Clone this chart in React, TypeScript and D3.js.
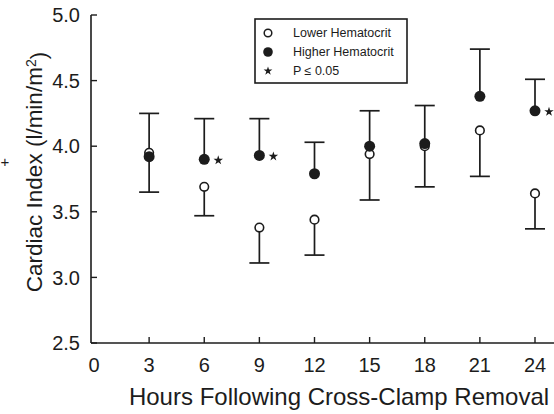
import React, { useEffect, useRef } from 'react';
import * as d3 from 'd3';

// hours after cross-clamp removal
const hours = [3, 6, 9, 12, 15, 18, 21, 24];
// lower hematocrit group (open circles), error bar drawn downward
const lowerMean = [3.95, 3.69, 3.38, 3.44, 3.94, 4.0, 4.12, 3.64];
const lowerSD = [0.3, 0.22, 0.27, 0.27, 0.35, 0.31, 0.35, 0.27];
// higher hematocrit group (filled circles), error bar drawn upward
const higherMean = [3.92, 3.9, 3.93, 3.79, 4.0, 4.02, 4.38, 4.27];
const higherSD = [0.33, 0.31, 0.28, 0.24, 0.27, 0.29, 0.36, 0.24];
// hours where P < 0.05
const significant = [6, 9, 24];

const xTicks = [0, 3, 6, 9, 12, 15, 18, 21, 24];
const yTicks = [2.5, 3.0, 3.5, 4.0, 4.5, 5.0];

const W = 554;
const H = 414;
const ink = '#1c1c1c';
const font = '"Liberation Sans", Arial, sans-serif';

const App = () => {
  const ref = useRef<SVGSVGElement>(null);

  useEffect(() => {
    const svg = d3.select(ref.current);
    svg.selectAll('*').remove();

    const x = d3.scaleLinear().domain([0, 24]).range([94, 535]);
    const y = d3.scaleLinear().domain([2.5, 5.0]).range([343, 15]);
    const axisX = 91;

    // axes lines
    svg.append('line')
      .attr('x1', axisX).attr('x2', axisX)
      .attr('y1', y(5.0)).attr('y2', y(2.5))
      .attr('stroke', ink).attr('stroke-width', 1.6);
    svg.append('line')
      .attr('x1', axisX).attr('x2', W)
      .attr('y1', y(2.5)).attr('y2', y(2.5))
      .attr('stroke', ink).attr('stroke-width', 1.6);

    // y ticks (inward) + labels
    const yg = svg.append('g');
    yg.selectAll('line').data(yTicks).join('line')
      .attr('x1', axisX).attr('x2', axisX + 6)
      .attr('y1', (d) => y(d)).attr('y2', (d) => y(d))
      .attr('stroke', ink).attr('stroke-width', 1.4);
    yg.selectAll('text').data(yTicks).join('text')
      .attr('x', 80).attr('y', (d) => y(d))
      .attr('dy', '0.36em')
      .attr('text-anchor', 'end')
      .style('font-family', font).style('font-size', '20px')
      .attr('fill', ink)
      .text((d) => d.toFixed(1));

    // x ticks (inward) + labels
    const xg = svg.append('g');
    xg.selectAll('line').data(xTicks.filter((d) => d > 0)).join('line')
      .attr('x1', (d) => x(d)).attr('x2', (d) => x(d))
      .attr('y1', y(2.5)).attr('y2', y(2.5) - 6)
      .attr('stroke', ink).attr('stroke-width', 1.4);
    xg.selectAll('text').data(xTicks).join('text')
      .attr('x', (d) => x(d)).attr('y', 372)
      .attr('text-anchor', 'middle')
      .style('font-family', font).style('font-size', '20px')
      .attr('fill', ink)
      .text((d) => d);

    // axis titles
    svg.append('text')
      .attr('x', 339).attr('y', 405)
      .attr('text-anchor', 'middle')
      .style('font-family', font).style('font-size', '24px')
      .attr('fill', ink)
      .text('Hours Following Cross-Clamp Removal');

    const yt = svg.append('text')
      .attr('transform', 'translate(42,172) rotate(-90)')
      .attr('text-anchor', 'middle')
      .style('font-family', font).style('font-size', '22.5px')
      .attr('fill', ink);
    yt.append('tspan').text('Cardiac Index (l/min/m');
    yt.append('tspan').attr('dy', '-0.45em').style('font-size', '14px').text('2');
    yt.append('tspan').attr('dy', '0.45em').text(')');

    // stray mark at the left edge of the scan
    svg.append('text')
      .attr('x', 5).attr('y', 167)
      .attr('text-anchor', 'middle')
      .style('font-family', font).style('font-size', '15px')
      .attr('fill', ink)
      .text('+');

    const cap = 10;
    const bars = svg.append('g').attr('stroke', ink).attr('stroke-width', 1.7);

    // lower group: downward bars
    hours.forEach((h, i) => {
      const cx = x(h);
      const end = y(lowerMean[i] - lowerSD[i]);
      bars.append('line').attr('x1', cx).attr('x2', cx)
        .attr('y1', y(lowerMean[i])).attr('y2', end);
      bars.append('line').attr('x1', cx - cap).attr('x2', cx + cap)
        .attr('y1', end).attr('y2', end);
    });
    // higher group: upward bars
    hours.forEach((h, i) => {
      const cx = x(h);
      const end = y(higherMean[i] + higherSD[i]);
      bars.append('line').attr('x1', cx).attr('x2', cx)
        .attr('y1', y(higherMean[i])).attr('y2', end);
      bars.append('line').attr('x1', cx - cap).attr('x2', cx + cap)
        .attr('y1', end).attr('y2', end);
    });

    // open circles
    svg.append('g').selectAll('circle').data(hours).join('circle')
      .attr('cx', (d) => x(d))
      .attr('cy', (d, i) => y(lowerMean[i]))
      .attr('r', 4.3)
      .attr('fill', 'white')
      .attr('stroke', ink).attr('stroke-width', 1.6);

    // filled circles
    svg.append('g').selectAll('circle').data(hours).join('circle')
      .attr('cx', (d) => x(d))
      .attr('cy', (d, i) => y(higherMean[i]))
      .attr('r', 5.5)
      .attr('fill', ink);

    // significance stars
    const star = d3.symbol().type(d3.symbolStar).size(28);
    svg.append('g').selectAll('path').data(significant).join('path')
      .attr('transform', (d) => {
        const i = hours.indexOf(d);
        return `translate(${x(d) + 14},${y(higherMean[i]) + 1})`;
      })
      .attr('d', star)
      .attr('fill', ink);

    // legend
    const lg = svg.append('g');
    lg.append('rect')
      .attr('x', 255).attr('y', 19).attr('width', 152).attr('height', 64)
      .attr('fill', 'white').attr('stroke', ink).attr('stroke-width', 1.6);
    const rows = [
      { label: 'Lower Hematocrit', y: 33 },
      { label: 'Higher Hematocrit', y: 52 },
      { label: 'P \u2264 0.05', y: 71 },
    ];
    lg.append('circle').attr('cx', 268).attr('cy', rows[0].y).attr('r', 3.8)
      .attr('fill', 'white').attr('stroke', ink).attr('stroke-width', 1.5);
    lg.append('circle').attr('cx', 268).attr('cy', rows[1].y).attr('r', 4.8)
      .attr('fill', ink);
    lg.append('path').attr('transform', `translate(268,${rows[2].y})`)
      .attr('d', d3.symbol().type(d3.symbolStar).size(24)).attr('fill', ink);
    lg.selectAll('text').data(rows).join('text')
      .attr('x', 293).attr('y', (d) => d.y)
      .attr('dy', '0.35em')
      .style('font-family', font).style('font-size', '12.5px')
      .attr('fill', ink)
      .text((d) => d.label);
  }, []);

  return (
    <svg
      ref={ref}
      width={W}
      height={H}
      style={{ position: 'absolute', left: 0, top: 0, background: 'white' }}
    />
  );
};

export default App;
